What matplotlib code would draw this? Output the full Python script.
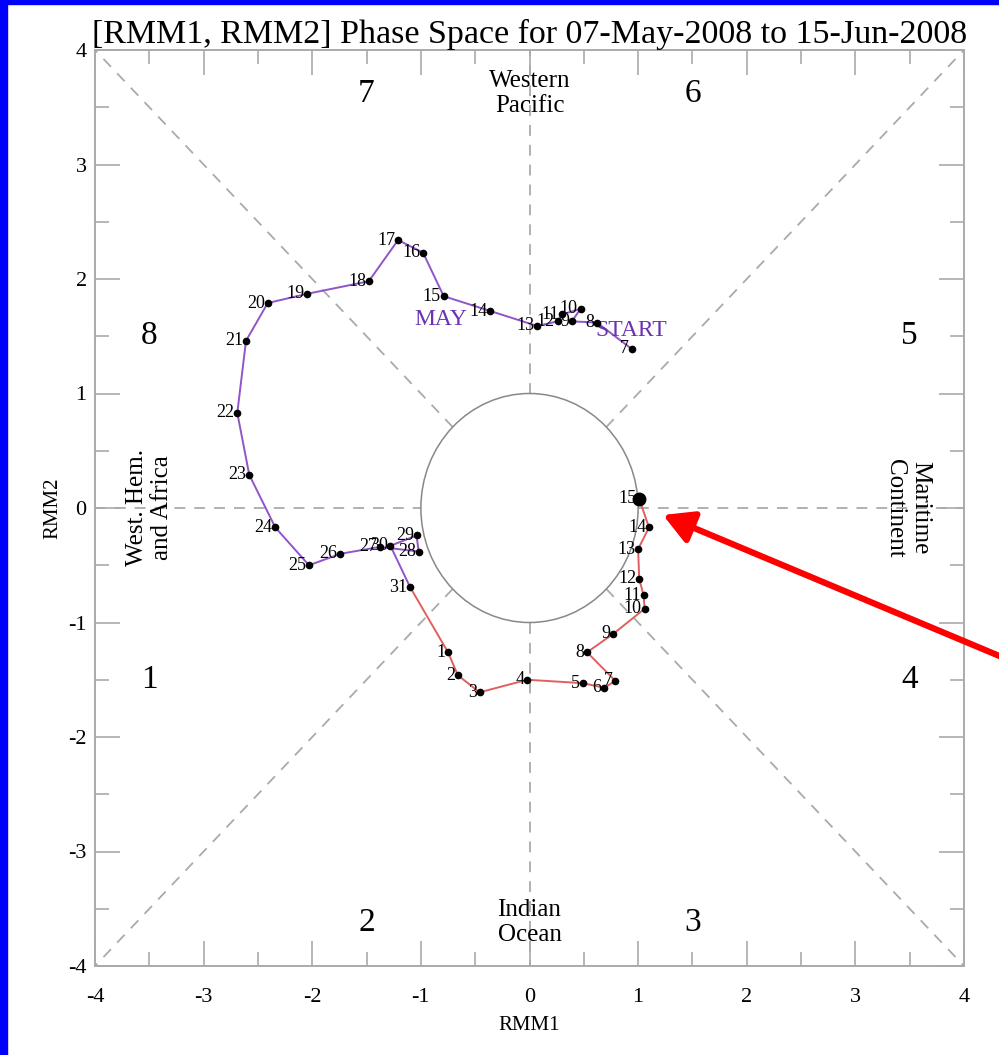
import numpy as np
import matplotlib
matplotlib.use("Agg")
import matplotlib.pyplot as plt
from matplotlib.patches import Circle, Rectangle, FancyArrowPatch

plt.rcParams['font.family'] = ['Liberation Serif', 'DejaVu Serif']
plt.rcParams['axes.unicode_minus'] = False

# May 2008 (days 7..31)
may_days = list(range(7, 32))
may_rmm1 = [0.94, 0.62, 0.39, 0.47, 0.30, 0.26, 0.07, -0.36, -0.79, -0.98,
            -1.21, -1.48, -2.05, -2.41, -2.61, -2.69, -2.58, -2.34, -2.03, -1.74,
            -1.38, -1.02, -1.04, -1.28, -1.10]
may_rmm2 = [1.39, 1.62, 1.63, 1.74, 1.69, 1.63, 1.59, 1.72, 1.85, 2.23,
            2.34, 1.98, 1.87, 1.79, 1.46, 0.83, 0.29, -0.17, -0.50, -0.40,
            -0.34, -0.38, -0.24, -0.33, -0.69]

# June 2008 (days 1..15)
jun_days = list(range(1, 16))
jun_rmm1 = [-0.75, -0.66, -0.46, -0.02, 0.49, 0.69, 0.79, 0.53, 0.77, 1.06,
            1.05, 1.01, 1.00, 1.10, 1.01]
jun_rmm2 = [-1.26, -1.46, -1.61, -1.50, -1.53, -1.57, -1.51, -1.26, -1.10, -0.88,
            -0.76, -0.62, -0.36, -0.17, 0.08]

phase_nums = ['1', '2', '3', '4', '5', '6', '7', '8']
phase_x = [-3.5, -1.5, 1.5, 3.5, 3.5, 1.5, -1.5, -3.5]
phase_y = [-1.5, -3.62, -3.62, -1.5, 1.5, 3.62, 3.62, 1.5]

purple = '#9055c8'
red = '#e06060'
txt_purple = '#6a32b4'
grey = '#aaaaaa'

fig = plt.figure(figsize=(9.99, 10.55), dpi=100)
ax = fig.add_axes([95/999, 1 - 966/1055, (964-95)/999, (966-50)/1055])

ax.set_xlim(-4, 4)
ax.set_ylim(-4, 4)

# dashed guide lines outside unit circle
d = dict(color=grey, lw=1.3, ls=(0, (6, 5)), zorder=1)
r = np.sqrt(0.5)
ax.plot([-4, -1], [0, 0], **d)
ax.plot([1, 4], [0, 0], **d)
ax.plot([0, 0], [1, 4], **d)
ax.plot([0, 0], [-1, -4], **d)
ax.plot([r, 4], [r, 4], **d)
ax.plot([-r, -4], [-r, -4], **d)
ax.plot([-r, -4], [r, 4], **d)
ax.plot([r, 4], [-r, -4], **d)

ax.add_patch(Circle((0, 0), 1.0, fill=False, ec='#888888', lw=1.1, zorder=2))

# trajectory
ax.plot(may_rmm1, may_rmm2, color=purple, lw=1.4, zorder=3)
ax.plot([may_rmm1[-1]] + jun_rmm1, [may_rmm2[-1]] + jun_rmm2, color=red, lw=1.4, zorder=3)
ax.plot(may_rmm1, may_rmm2, 'o', color='black', ms=4.5, zorder=4)
ax.plot(jun_rmm1[:-1], jun_rmm2[:-1], 'o', color='black', ms=4.5, zorder=4)
ax.plot(jun_rmm1[-1], jun_rmm2[-1], 'o', color='black', ms=9, zorder=5)

for dd, x, y in zip(may_days + jun_days, may_rmm1 + jun_rmm1, may_rmm2 + jun_rmm2):
    ax.annotate(str(dd), (x, y), xytext=(-2, 0), textcoords='offset points',
                ha='right', va='center', fontsize=13, zorder=6)

ax.text(-0.82, 1.65, 'MAY', color=txt_purple, fontsize=17, ha='center', va='center')
ax.text(0.94, 1.55, 'START', color=txt_purple, fontsize=17, ha='center', va='center')

for s, x, y in zip(phase_nums, phase_x, phase_y):
    ax.text(x, y, s, fontsize=24, ha='center', va='center')

ax.text(0, 3.62, 'Western\nPacific', fontsize=18, ha='center', va='center', linespacing=1.2)
ax.text(0, -3.62, 'Indian\nOcean', fontsize=18, ha='center', va='center', linespacing=1.2)
ax.text(-3.5, 0, 'West. Hem.\nand Africa', fontsize=18, ha='center', va='center',
        rotation=90, linespacing=1.2)
ax.text(3.48, 0, 'Maritime\nContinent', fontsize=18, ha='center', va='center',
        rotation=-90, linespacing=1.2)

ax.set_xticks(np.arange(-4, 5, 1))
ax.set_yticks(np.arange(-4, 5, 1))
ax.set_xticks(np.arange(-4, 4.1, 0.5), minor=True)
ax.set_yticks(np.arange(-4, 4.1, 0.5), minor=True)
ax.tick_params(which='both', direction='in', top=True, right=True, color=grey, width=1.2,
               labelsize=16)
ax.tick_params(which='major', length=18)
ax.tick_params(which='minor', length=10)
ax.tick_params(axis='x', pad=16)
ax.tick_params(axis='y', pad=6)
for sp in ax.spines.values():
    sp.set_color(grey)
    sp.set_linewidth(1.4)

ax.set_xlabel('RMM1', fontsize=15, labelpad=6)
ax.set_ylabel('RMM2', fontsize=15, labelpad=4)
ax.set_title('[RMM1, RMM2] Phase Space for 07-May-2008 to 15-Jun-2008', fontsize=24.5, pad=5)

# blue frame edges
fig.patches.append(Rectangle((0, 0), 7/999, 1, transform=fig.transFigure,
                             color='#0000ff', zorder=0))
fig.patches.append(Rectangle((0, 1 - 4/1055), 1, 4/1055, transform=fig.transFigure,
                             color='#0000ff', zorder=0))
# red arrow pointing at the last day
fig.add_artist(FancyArrowPatch(
    (1.01, 1 - 660/1055), (663/999, 1 - 515/1055), transform=fig.transFigure,
    arrowstyle='-|>,head_length=0.9,head_width=0.5', mutation_scale=20,
    color='#ff0000', lw=4.5, shrinkA=0, shrinkB=0))

fig.savefig('out.png', dpi=100)
